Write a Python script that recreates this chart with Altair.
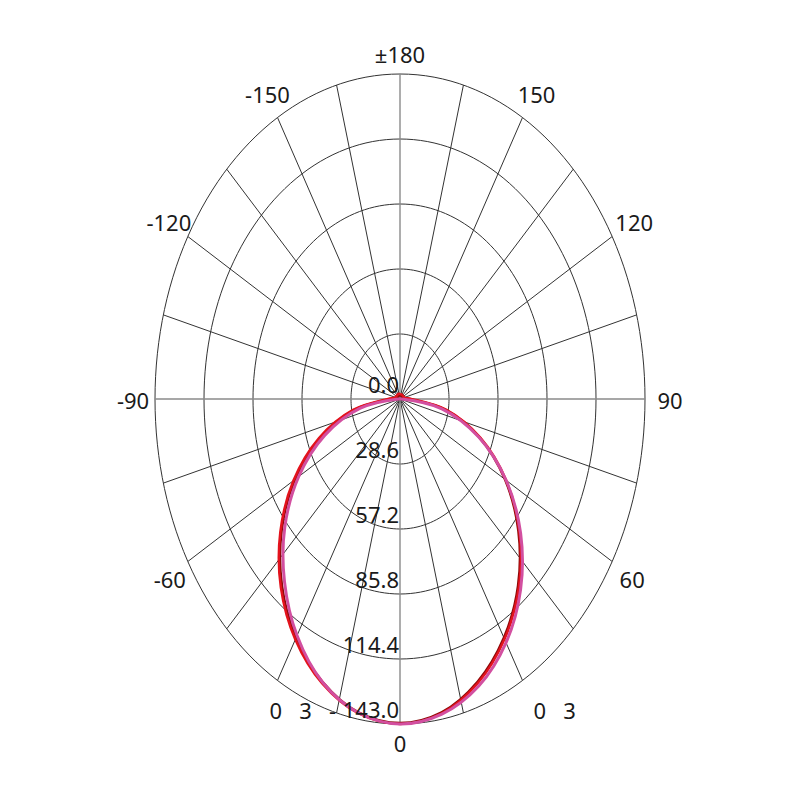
import math
import altair as alt
import pandas as pd

# ---------------- data ----------------
angles = list(range(-180, 181, 10))  # gamma angle, degrees (0 = downward)

magenta_vals = [0, 0, 0, 0, 0, 0, 0, 0, 0, 1.0,
                23.8, 46.8, 68.3, 87.8, 104.9, 120.2, 132.5, 140.2,
                143.0,
                140.8, 134.4, 123.8, 109.5, 91.9, 71.5, 48.9, 24.8,
                1.0, 0, 0, 0, 0, 0, 0, 0, 0, 0]

red_vals = [2.4, 2.4, 2.4, 2.4, 2.4, 2.4, 2.5, 2.7, 3.2, 7.0,
            27.8, 50.3, 71.8, 91.2, 108.2, 122.2, 133.1, 140.4,
            143.0,
            140.4, 133.0, 122.0, 108.0, 91.0, 71.5, 50.0, 27.5,
            6.5, 3.0, 2.5, 2.3, 2.2, 2.2, 2.2, 2.2, 2.2, 2.4]

darkred_vals = [1.6, 1.6, 1.6, 1.6, 1.6, 1.6, 1.7, 1.9, 2.4, 5.5,
                26.8, 49.3, 70.8, 90.2, 107.2, 121.3, 132.4, 140.0,
                142.6,
                140.0, 132.4, 121.3, 107.2, 90.2, 70.8, 49.3, 26.8,
                5.5, 2.4, 1.9, 1.7, 1.6, 1.6, 1.6, 1.6, 1.6, 1.6]

ring_values = [28.6, 57.2, 85.8, 114.4, 143.0]
ring_labels = ["0.0", "28.6", "57.2", "85.8", "114.4", "143.0"]
ring_label_values = [0.0, 28.6, 57.2, 85.8, 114.4, 143.0]

spoke_angles = list(range(-180, 180, 15))
tick_angles = [180, -150, 150, -120, 120, -90, 90, -60, 60, 0]
tick_texts = ["±180", "-150", "150", "-120", "120", "-90", "90", "-60", "60", "0"]

RMAX = 143.0

# ---------------- layout ----------------
W = H = 784
RX_PX, RY_PX = 245.0, 325.0
kx = RMAX / RX_PX   # data units per pixel, horizontal
ky = RMAX / RY_PX   # data units per pixel, vertical
cx_px, cy_px = 392, 391
xdom = [-cx_px * kx, (W - cx_px) * kx]
ydom = [-(H - cy_px) * ky, cy_px * ky]
xs = alt.Scale(domain=xdom, nice=False, zero=False)
ys = alt.Scale(domain=ydom, nice=False, zero=False)

# pixel nudges of the angle labels away from the outer ring (layout only)
label_nudge = {180: (0, -18), -150: (-10, -22), 150: (14, -22), -120: (-19, -13), 120: (22, -13),
               -90: (-22, 3), 90: (25, 3), -60: (-18, 19), 60: (20, 19), 0: (0, 21)}

FONT = "Noto Sans, Open Sans, sans-serif"
FS = 22
TXT = "#1a1a1a"
NB = "\u00a0"


def polar_df(vals):
    rows = []
    for i, (a, v) in enumerate(zip(angles, vals)):
        t = math.radians(a)
        rows.append({"x": v * math.sin(t), "y": -v * math.cos(t), "o": i})
    return pd.DataFrame(rows)


ring_rows = []
for r in ring_values:
    for k, t in enumerate(range(0, 361, 2)):
        tr = math.radians(t)
        ring_rows.append({"x": r * math.sin(tr), "y": r * math.cos(tr), "o": k, "ring": r})
rings_df = pd.DataFrame(ring_rows)

spoke_rows = []
for a in spoke_angles:
    t = math.radians(a)
    spoke_rows.append({"x": 0.0, "y": 0.0, "x2": RMAX * math.sin(t), "y2": -RMAX * math.cos(t),
                       "main": a % 90 == 0})
spokes_df = pd.DataFrame(spoke_rows)

rl_df = pd.DataFrame({"x": [0.0] * len(ring_label_values),
                      "y": [-v for v in ring_label_values],
                      "t": ring_labels})

tl_rows = []
for a, s in zip(tick_angles, tick_texts):
    t = math.radians(a)
    nx, ny = label_nudge[a]
    tl_rows.append({"x": RMAX * math.sin(t) + nx * kx,
                    "y": -RMAX * math.cos(t) - ny * ky, "t": s})
tl_df = pd.DataFrame(tl_rows)

c30 = RMAX * math.cos(math.radians(30))
sp_l = pd.DataFrame({"x": [-RMAX * 0.5], "y": [-c30], "t": ["0" + NB * 3 + "3" + NB * 3 + "-"]})
sp_r = pd.DataFrame({"x": [RMAX * 0.5], "y": [-c30], "t": ["0" + NB * 3 + "3"]})

X = alt.X("x:Q", scale=xs, axis=None)
Y = alt.Y("y:Q", scale=ys, axis=None)

rings = alt.Chart(rings_df).mark_line(color="#333333", strokeWidth=1).encode(
    x=X, y=Y, detail="ring:N", order="o:Q")

spokes_minor = alt.Chart(spokes_df[~spokes_df["main"]]).mark_rule(color="#333333", strokeWidth=1).encode(
    x=X, y=Y, x2="x2:Q", y2="y2:Q")
spokes_main = alt.Chart(spokes_df[spokes_df["main"]]).mark_rule(color="#8a8a8a", strokeWidth=1.4).encode(
    x=X, y=Y, x2="x2:Q", y2="y2:Q")


def curve(vals, color, w):
    return alt.Chart(polar_df(vals)).mark_line(
        color=color, strokeWidth=w, interpolate="catmull-rom").encode(x=X, y=Y, order="o:Q")


c_dark = curve(darkred_vals, "#8c0a0a", 2.5)
c_red = curve(red_vals, "#e3121c", 2.5)
c_mag = curve(magenta_vals, "#d24fa0", 3.0)

ring_text = alt.Chart(rl_df).mark_text(
    font=FONT, fontSize=FS, color=TXT, align="right", baseline="middle", dx=-1, dy=-13).encode(
    x=X, y=Y, text="t:N")

tick_text = alt.Chart(tl_df).mark_text(
    font=FONT, fontSize=FS, color=TXT, align="center", baseline="middle").encode(
    x=X, y=Y, text="t:N")

sp_text_l = alt.Chart(sp_l).mark_text(
    font=FONT, fontSize=FS, color=TXT, align="left", baseline="middle", dx=-8, dy=32).encode(
    x=X, y=Y, text="t:N")
sp_text_r = alt.Chart(sp_r).mark_text(
    font=FONT, fontSize=FS, color=TXT, align="left", baseline="middle", dx=11, dy=32).encode(
    x=X, y=Y, text="t:N")

chart = alt.layer(
    rings, spokes_minor, spokes_main, c_dark, c_red, c_mag,
    ring_text, tick_text, sp_text_l, sp_text_r
).properties(
    width=W, height=H, padding=0,
    autosize=alt.AutoSizeParams(type="none"),
    background="white"
).configure_view(strokeWidth=0)

chart.save("out.html", embed_options={"renderer": "svg", "actions": False})
